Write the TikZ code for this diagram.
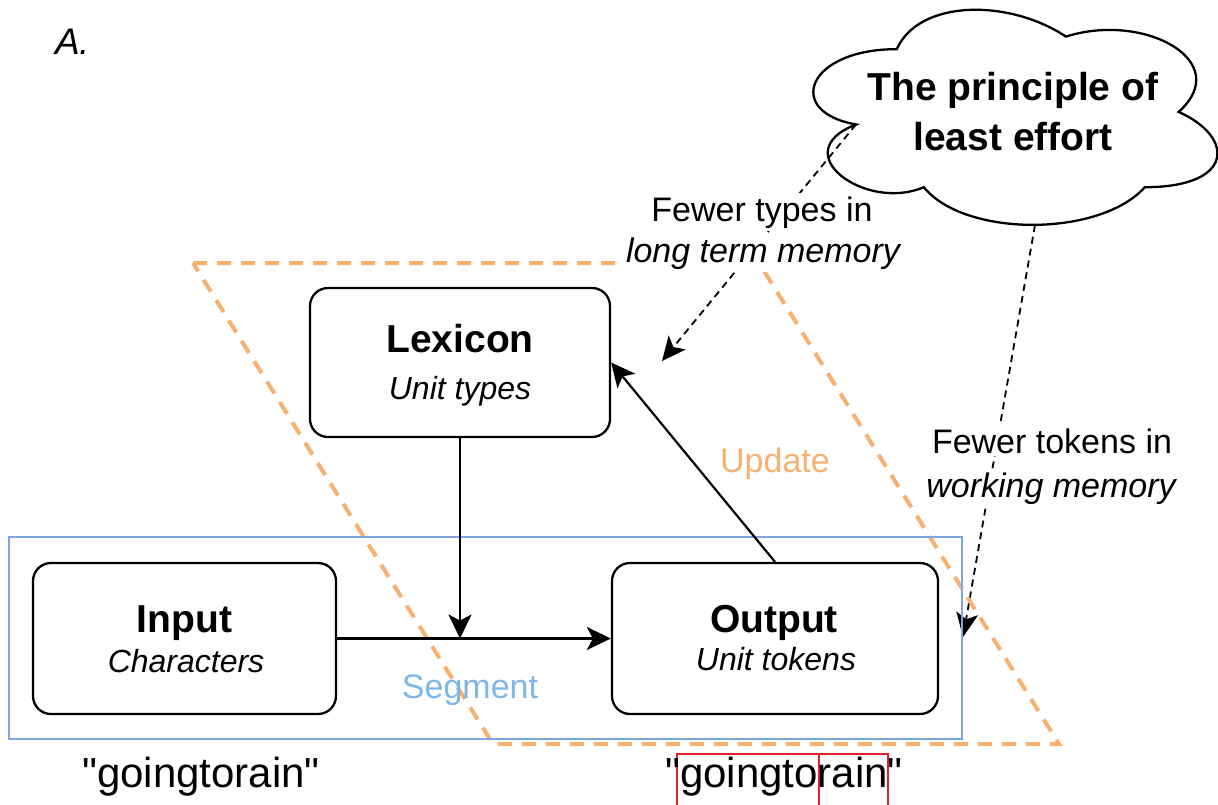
\documentclass[tikz,border=0pt]{standalone}
\usepackage{fontspec}
\setmainfont{Liberation Sans}
\usetikzlibrary{arrows.meta}
\definecolor{orng}{RGB}{247,176,112}
\definecolor{blu}{RGB}{126,166,224}
\definecolor{segblue}{RGB}{125,182,232}
\definecolor{redbox}{RGB}{228,32,40}
\newcommand{\strq}{\XeTeXglyph\XeTeXcharglyph"0022\relax}
\begin{document}
\begin{tikzpicture}[x=1pt,y=-1pt,
  box/.style={draw=black, line width=2.3pt, rounded corners=18pt, fill=white, inner sep=0pt},
  arr/.style={line width=2.2pt, -{Stealth[length=24pt,width=23pt,inset=6pt]}},
  darr/.style={line width=1.8pt, dash pattern=on 7pt off 5pt, -{Stealth[length=24pt,width=22pt,inset=6pt]}},
  btxt/.style={font=\fontsize{39}{44}\selectfont\bfseries, anchor=base, inner sep=0pt},
  itxt/.style={font=\fontsize{32}{38}\selectfont\itshape, anchor=base, inner sep=0pt},
  lbl/.style={font=\fontsize{34}{40}\selectfont, anchor=base, inner sep=3pt},
  wtxt/.style={font=\fontsize{42}{48}\selectfont, anchor=base west, inner sep=0pt},
  ]
\useasboundingbox (0,0) rectangle (1218,804);

% cloud (draw.io cloud shape)
\draw[line width=2.3pt, fill=white]
  (896.75,49.15) .. controls (806.55,49.15) and (784,111.9) .. (856.16,124.45)
  .. controls (784,152.06) and (865.18,212.3) .. (923.81,187.2)
  .. controls (964.4,237.4) and (1099.7,237.4) .. (1144.8,187.2)
  .. controls (1235,187.2) and (1235,137) .. (1178.6,111.9)
  .. controls (1235,61.7) and (1144.8,11.5) .. (1065.9,36.6)
  .. controls (1009.5,-1.05) and (919.3,-1.05) .. (896.75,49.15) -- cycle;
\node[btxt] (cl1) at (1013,100) {The principle of};
\node[btxt] (cl2) at (1013,150) {least effort};
\coordinate (cloudA) at (856,124.5);
\coordinate (cloudB) at (1035,225);
\coordinate (tipA) at (662,361);
\coordinate (tipB) at (963,637);

% dashed arrows
\draw[darr] (cloudA) -- (tipA);
\draw[darr] (cloudB) -- (tipB);

% parallelogram
\draw[orng, line width=4pt, dash pattern=on 14pt off 10pt]
  (193,263) -- (759,263) -- (1059,744) -- (493,744) -- cycle;

% blue rectangle
\draw[blu, line width=2pt] (9,537) rectangle (962,739);

% boxes
\node[box, minimum width=300pt, minimum height=149pt] (lex) at (460,362.5) {};
\node[box, minimum width=303pt, minimum height=151pt] (inp) at (184.5,638.5) {};
\node[box, minimum width=326pt, minimum height=151pt] (outp) at (775,638.5) {};
\node[btxt] (lexT) at (460,352) {Lexicon};
\node[itxt] (lexS) at (460,399) {Unit types};
\node[btxt] (inpT) at (184.5,632) {Input};
\node[itxt] (inpS) at (186,672) {Characters};
\node[btxt] (outT) at (774,632) {Output};
\node[itxt] (outS) at (776,670) {Unit tokens};

% solid arrows
\coordinate (junc) at (460,638.5);
\draw[arr] (lex.south) -- (junc);
\draw[arr] (inp.east) -- (outp.west);
\draw[arr] (outp.north) -- (lex.east);

% labels
\node[lbl, fill=white] (ft) at (762,221) {Fewer types in};
\node[lbl, fill=white, font=\fontsize{34}{40}\selectfont\itshape] (lt) at (763,262) {long term memory};
\node[lbl, fill=white] (fk) at (1052,453) {Fewer tokens in};
\node[lbl, fill=white, font=\fontsize{34}{40}\selectfont\itshape] (wm) at (1051,497) {working memory};
\node[lbl, text=orng] (upd) at (775,472) {Update};
\node[lbl, text=segblue] (seg) at (470,698) {Segment};
\node[font=\fontsize{37}{42}\selectfont\itshape, anchor=base west, inner sep=0pt] (A) at (55,54) {A.};

% words
\node[wtxt] (word1) at (82,787) {\strq goingtorain\strq};
\draw[redbox, line width=2pt] (677,754) rectangle (819,815);
\draw[redbox, line width=2pt] (819,754) rectangle (888,815);
\node[wtxt] (word2) at (665,787) {\strq goingtorain\strq};
\end{tikzpicture}
\end{document}
